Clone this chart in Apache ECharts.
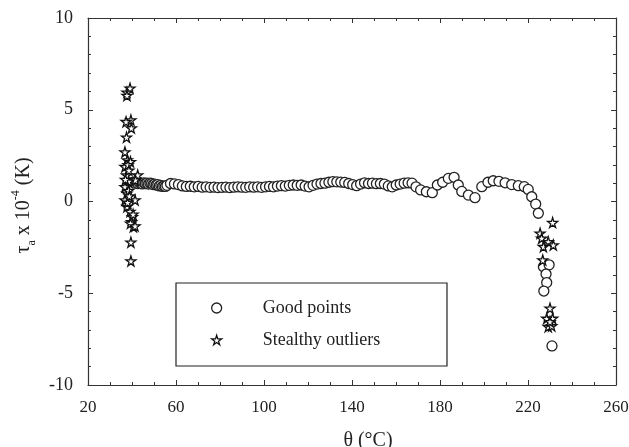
<!DOCTYPE html>
<html>
<head>
<meta charset="utf-8">
<script src="https://cdn.jsdelivr.net/npm/echarts@6/dist/echarts.min.js"></script>
<style>
  html, body { margin: 0; padding: 0; background: #fff; }
  #main { width: 629px; height: 447px; }
</style>
</head>
<body>
<div id="main"></div>
<script>
// good points (circles)
var goodX = [40.5, 41.2, 41.9, 42.6, 43.3, 44.0, 44.7, 45.4, 46.1, 46.8, 47.5, 48.2, 48.9, 49.6, 50.3, 51.0, 51.7, 52.4, 53.1, 53.8, 54.5, 55.2, 55.9,
  57.5, 59.3, 61.1, 62.9, 64.7, 66.5, 68.3, 70.1, 71.9, 73.7, 75.5, 77.3, 79.1, 80.9, 82.7, 84.5, 86.3, 88.1, 89.9, 91.7,
  93.5, 95.3, 97.1, 98.9, 100.7, 102.5, 104.3, 106.1, 107.9, 109.7, 111.5, 113.3, 115.1, 116.9, 118.7, 120.5, 122.3, 124.1,
  125.9, 127.7, 129.5, 131.3, 133.1, 134.9, 136.7, 138.5, 140.3, 142.1, 143.9, 145.7, 147.5, 149.3, 151.1, 152.9, 154.7,
  156.5, 158.3, 160.1, 161.9, 163.7, 165.5, 167.3, 169.1, 171.2, 173.8, 176.5, 178.8, 181.2, 183.8, 186.4, 188.3, 189.9,
  192.9, 195.9, 199.0, 201.8, 204.2, 206.8, 209.6, 212.6, 215.6, 218.3, 220.1, 221.7, 223.5, 224.7,
  227.0, 229.6, 228.2, 228.5, 227.2, 230.9];
var goodY = [1.05, 1.0, 1.08, 0.98, 1.04, 1.0, 0.96, 1.02, 0.98, 1.0, 0.95, 1.0, 0.98, 0.92, 0.95, 0.9, 0.92, 0.85, 0.88, 0.82, 0.84, 0.82, 0.88,
  0.98, 0.96, 0.92, 0.85, 0.82, 0.83, 0.8, 0.82, 0.78, 0.8, 0.77, 0.78, 0.76, 0.77, 0.78, 0.76, 0.78, 0.8, 0.78, 0.77,
  0.8, 0.78, 0.8, 0.77, 0.8, 0.82, 0.8, 0.84, 0.86, 0.84, 0.88, 0.9, 0.88, 0.9, 0.84, 0.8, 0.88, 0.95,
  0.98, 1.0, 1.05, 1.08, 1.07, 1.06, 1.04, 0.98, 0.92, 0.86, 0.95, 1.02, 0.98, 1.0, 0.97, 0.98, 0.95,
  0.85, 0.8, 0.9, 0.95, 1.0, 1.02, 1.0, 0.8, 0.63, 0.53, 0.48, 0.9, 1.05, 1.26, 1.32, 0.9, 0.55,
  0.35, 0.21, 0.81, 1.05, 1.13, 1.1, 1.02, 0.92, 0.86, 0.81, 0.66, 0.26, -0.14, -0.64,
  -3.55, -3.45, -3.95, -4.42, -4.88, -7.87];

// stealthy outliers (stars)
var outX = [39.1, 37.7, 37.7, 39.5, 37.3, 39.7, 37.5, 36.8, 37.9, 39.3, 36.8, 42.6, 37.5, 41.5, 38.5, 36.8, 37.7, 36.8,
  41.4, 37.7, 39.1, 40.2, 39.8, 40.6, 39.3, 41.4, 39.5, 39.5, 38.2, 37.0, 38.5, 38.0, 38.8, 40.5, 38.6,
  231.2, 225.5, 226.2, 227.0, 229.2, 231.5, 226.7, 230.0, 228.5, 231.2, 229.2, 230.8, 230.0];
var outY = [6.17, 5.95, 5.78, 4.44, 4.35, 4.0, 3.5, 2.7, 2.26, 2.17, 1.9, 1.44, 1.44, 1.17, 1.1, 0.8, 0.45, 0.08,
  0.08, -0.28, -0.55, -0.83, -1.1, -1.37, -1.19, -1.34, -2.22, -3.24, 2.0, 1.2, 0.6, -0.05, 0.3, -0.7, 1.7,
  -1.15, -1.73, -2.0, -2.46, -2.19, -2.37, -3.19, -5.82, -6.37, -6.37, -6.82, -6.78, -6.55];

var starPath = 'path://M50,0 L61,35 L98,35 L68,57 L79,91 L50,70 L21,91 L32,57 L2,35 L39,35 Z';
var font = 'Liberation Serif';
var lineCol = '#333';
var txtCol = '#222';

function pairs(xs, ys) {
  return xs.map(function (x, i) { return [x, ys[i]]; });
}

var myChart = echarts.init(document.getElementById('main'));
var option = {
  animation: false,
  backgroundColor: '#fff',
  grid: { left: 88, right: 13, top: 18, bottom: 62, containLabel: false, outerBoundsMode: 'none' },
  legend: {
    orient: 'vertical',
    left: 206,
    top: 294,
    itemWidth: 10,
    itemHeight: 10,
    itemGap: 14,
    data: [
      { name: 'Good points', icon: 'circle', itemStyle: { color: '#fff', borderColor: '#222', borderWidth: 1.3 } },
      { name: 'Stealthy outliers', icon: starPath, itemStyle: { color: '#fff', borderColor: '#111', borderWidth: 1.3 } }
    ],
    textStyle: { fontFamily: font, fontSize: 18, color: txtCol, padding: [0, 0, 0, 36] }
  },
  xAxis: [{
    type: 'value', min: 20, max: 260, interval: 40,
    name: 'θ (°C)', nameLocation: 'middle', nameGap: 46,
    nameTextStyle: { fontFamily: font, fontSize: 20, color: txtCol, padding: [0, 0, 0, 32] },
    axisLine: { onZero: false, lineStyle: { color: lineCol, width: 1.2 } },
    axisTick: { inside: true, length: 5, lineStyle: { color: lineCol } },
    minorTick: { show: true, splitNumber: 4, length: 3, lineStyle: { color: lineCol } },
    axisLabel: { fontFamily: font, fontSize: 17, color: txtCol, margin: 14 },
    splitLine: { show: false }
  }, {
    type: 'value', position: 'top', min: 20, max: 260, interval: 40,
    axisLine: { onZero: false, lineStyle: { color: lineCol, width: 1.2 } },
    axisTick: { inside: true, length: 5, lineStyle: { color: lineCol } },
    minorTick: { show: true, splitNumber: 4, length: 3, lineStyle: { color: lineCol } },
    axisLabel: { show: false },
    splitLine: { show: false }
  }],
  yAxis: [{
    type: 'value', min: -10, max: 10, interval: 5,
    name: '{m|τ}{sub|a}{m| x 10}{sup|-4}{m| (K)}',
    nameLocation: 'middle', nameGap: 50, nameRotate: 90,
    nameTextStyle: {
      fontFamily: font, fontSize: 20, color: txtCol, padding: [0, 8, 0, 0],
      rich: {
        m: { fontFamily: font, fontSize: 20, color: txtCol, lineHeight: 28, verticalAlign: 'middle' },
        sub: { fontFamily: font, fontSize: 12, color: txtCol, lineHeight: 28, verticalAlign: 'bottom' },
        sup: { fontFamily: font, fontSize: 12, color: txtCol, lineHeight: 28, verticalAlign: 'top' }
      }
    },
    axisLine: { onZero: false, lineStyle: { color: lineCol, width: 1.2 } },
    axisTick: { inside: true, length: 5, lineStyle: { color: lineCol } },
    minorTick: { show: true, splitNumber: 5, length: 3, lineStyle: { color: lineCol } },
    axisLabel: { fontFamily: font, fontSize: 18, color: txtCol, margin: 15 },
    splitLine: { show: false }
  }, {
    type: 'value', position: 'right', min: -10, max: 10, interval: 5,
    axisLine: { onZero: false, lineStyle: { color: lineCol, width: 1.2 } },
    axisTick: { inside: true, length: 5, lineStyle: { color: lineCol } },
    minorTick: { show: true, splitNumber: 5, length: 3, lineStyle: { color: lineCol } },
    axisLabel: { show: false },
    splitLine: { show: false }
  }],
  graphic: [{
    type: 'rect',
    shape: { x: 176, y: 283, width: 271, height: 83 },
    style: { fill: 'none', stroke: '#222', lineWidth: 1.2 },
    silent: true
  }],
  series: [{
    name: 'Good points',
    type: 'scatter',
    symbol: 'circle',
    symbolSize: 10,
    itemStyle: { color: '#fff', borderColor: '#222', borderWidth: 1.3, opacity: 1 },
    data: pairs(goodX, goodY)
  }, {
    name: 'Stealthy outliers',
    type: 'scatter',
    symbol: starPath,
    symbolSize: 10,
    itemStyle: { color: '#fff', borderColor: '#111', borderWidth: 1.3, opacity: 1 },
    data: pairs(outX, outY)
  }]
};
myChart.setOption(option);
</script>
</body>
</html>
